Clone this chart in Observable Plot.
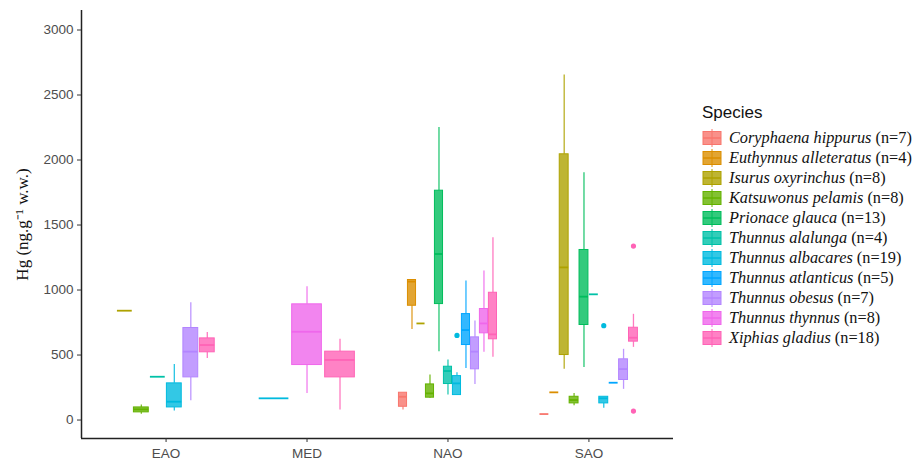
<!DOCTYPE html>
<html><head><meta charset="utf-8">
<script src="https://cdn.jsdelivr.net/npm/d3@7"></script>
<script src="https://cdn.jsdelivr.net/npm/@observablehq/plot@0.6"></script>
<style>
body{margin:0;background:#fff;}
#wrap{position:relative;width:914px;height:462px;overflow:hidden;}
#legend{position:absolute;left:690px;top:95px;}
</style></head><body><div id="wrap"></div>
<script>
// ---- data ----
const oceans = ["EAO", "MED", "NAO", "SAO"];
const species = ["Coryphaena hippurus", "Euthynnus alleteratus", "Isurus oxyrinchus", "Katsuwonus pelamis",
  "Prionace glauca", "Thunnus alalunga", "Thunnus albacares", "Thunnus atlanticus", "Thunnus obesus",
  "Thunnus thynnus", "Xiphias gladius"];
const speciesN = [7, 4, 8, 8, 13, 4, 19, 5, 7, 8, 18];
const palette = ["#F8766D", "#DB8E00", "#AEA200", "#64B200", "#00BD5C", "#00C1A7", "#00BADE", "#00A6FF", "#B385FF", "#EF67EB", "#FF63B6"];
const yTicks = [0, 500, 1000, 1500, 2000, 2500, 3000];
const yLabel = "Hg (ng.g\u207B\u00B9 w.w.)";

// box summaries: ocean, species index, lower whisker, Q1, median, Q3, upper whisker
const boxOcean   = ["EAO","EAO","EAO","EAO","EAO","EAO", "MED","MED","MED",
  "NAO","NAO","NAO","NAO","NAO","NAO","NAO","NAO","NAO","NAO","NAO",
  "SAO","SAO","SAO","SAO","SAO","SAO","SAO","SAO","SAO","SAO"];
const boxSpecies = [2,3,5,6,8,10, 6,9,10, 0,1,2,3,4,5,6,7,8,9,10, 0,1,2,3,4,5,6,7,8,10];
const boxLow     = [841, 44, 333, 69, 149, 474,  167, 205, 77,
  77, 697, 743, 165, 526, 192, 190, 397, 274, 521, 482,
  46, 213, 390, 110, 405, 967, 90, 287, 236, 559];
const boxQ1      = [841, 59, 333, 97, 328, 521,  167, 423, 328,
  102, 879, 743, 172, 892, 277, 192, 577, 390, 667, 621,
  46, 213, 500, 128, 731, 967, 128, 287, 308, 603];
const boxMedian  = [841, 82, 333, 141, 526, 577,  167, 679, 462,
  179, 1065, 743, 205, 1277, 377, 282, 692, 526, 743, 659,
  46, 213, 1174, 154, 949, 967, 167, 287, 392, 633];
const boxQ3      = [841, 97, 333, 282, 708, 628,  167, 890, 526,
  210, 1077, 743, 274, 1764, 410, 338, 815, 636, 854, 979,
  46, 213, 2044, 179, 1308, 967, 179, 287, 467, 710];
const boxHigh    = [841, 115, 333, 428, 903, 674,  167, 1026, 621,
  210, 1077, 743, 346, 2251, 462, 364, 1069, 762, 1146, 1403,
  46, 213, 2654, 205, 1903, 967, 179, 287, 544, 813];

// outliers
const outOcean   = ["NAO", "SAO", "SAO", "SAO"];
const outSpecies = [6, 6, 10, 10];
const outValue   = [651, 726, 1338, 69];

// ---- build tables ----
const groupWidth = 0.702;
const rows = boxOcean.map((o, i) => ({
  ocean: o, species: species[boxSpecies[i]], sp: boxSpecies[i],
  low: boxLow[i], q1: boxQ1[i], median: boxMedian[i], q3: boxQ3[i], high: boxHigh[i]
}));
const pos = new Map();
for (const o of oceans) {
  const g = rows.filter(r => r.ocean === o);
  const n = g.length, slot = groupWidth / n, base = oceans.indexOf(o) + 1;
  g.forEach((r, k) => {
    r.cx = base + (k - (n - 1) / 2) * slot;
    r.x1 = r.cx - 0.45 * slot;
    r.x2 = r.cx + 0.45 * slot;
    pos.set(o + "|" + r.sp, r.cx);
  });
}
const outliers = outOcean.map((o, i) => ({
  ocean: o, species: species[outSpecies[i]], value: outValue[i], cx: pos.get(o + "|" + outSpecies[i])
}));
const boxes = rows.filter(r => r.q3 > r.q1);

const xDomain = [0.4, 4.6];
const yDomain = [-142, 3150];

const plot = Plot.plot({
  width: 914, height: 462,
  marginLeft: 81, marginRight: 241, marginTop: 10, marginBottom: 24,
  style: {fontFamily: "'Liberation Sans', Arial, sans-serif", background: "#fff"},
  x: {type: "linear", domain: xDomain},
  y: {domain: yDomain},
  color: {type: "ordinal", domain: species, range: palette},
  marks: [
    Plot.ruleX(rows, {x: "cx", y1: "q3", y2: "high", stroke: "species", strokeWidth: 1.3, strokeOpacity: 0.85}),
    Plot.ruleX(rows, {x: "cx", y1: "low", y2: "q1", stroke: "species", strokeWidth: 1.3, strokeOpacity: 0.85}),
    Plot.rect(boxes, {x1: "x1", x2: "x2", y1: "q1", y2: "q3", fill: "species", fillOpacity: 0.8, stroke: "species", strokeWidth: 1}),
    Plot.ruleY(rows, {y: "median", x1: "x1", x2: "x2", stroke: "species", strokeWidth: 1.8}),
    Plot.dot(outliers, {x: "cx", y: "value", fill: "species", r: 2.6, stroke: null}),
    Plot.ruleX([xDomain[0]], {stroke: "#222", strokeWidth: 1.5}),
    Plot.ruleY([yDomain[0]], {stroke: "#222", strokeWidth: 1.5}),
    Plot.axisY(yTicks, {tickSize: 4, tickPadding: 4, fontSize: 13.5, fill: "#4D4D4D", stroke: "#333", label: null,
      tickFormat: d => String(d)}),
    Plot.axisX([1, 2, 3, 4], {tickSize: 4, tickPadding: 6, fontSize: 13.5, fill: "#4D4D4D", stroke: "#333", label: null,
      tickFormat: d => oceans[d - 1]}),
    Plot.text([yLabel], {frameAnchor: "left", textAnchor: "middle", dx: -59, rotate: -90, fontSize: 17, fill: "#111",
      fontFamily: "'Liberation Serif', 'Times New Roman', serif"})
  ]
});
const wrap = document.getElementById("wrap");
wrap.appendChild(plot);

// ---- legend (built from the plot's color scale) ----
const colorScale = plot.scale("color");
const leg = d3.select(wrap).append("svg").attr("id", "legend").attr("width", 224).attr("height", 260);
leg.append("text").attr("x", 12).attr("y", 23).attr("font-family", "'Liberation Sans', Arial, sans-serif")
  .attr("font-size", 17).attr("fill", "#111").text("Species");
colorScale.domain.forEach((s, i) => {
  const cy = 43 + 20 * i;
  const c = colorScale.range[i];
  const g = leg.append("g");
  g.append("line").attr("x1", 22).attr("x2", 22).attr("y1", cy - 9).attr("y2", cy + 9).attr("stroke", c).attr("stroke-width", 1);
  g.append("rect").attr("x", 13).attr("y", cy - 6.5).attr("width", 18).attr("height", 13)
    .attr("fill", c).attr("fill-opacity", 0.8).attr("stroke", c).attr("stroke-width", 1);
  g.append("line").attr("x1", 13).attr("x2", 31).attr("y1", cy).attr("y2", cy).attr("stroke", c).attr("stroke-width", 1.5);
  const t = g.append("text").attr("x", 39).attr("y", cy + 5)
    .attr("font-family", "'Liberation Serif', 'Times New Roman', serif").attr("font-size", 16.3).attr("fill", "#111");
  t.append("tspan").attr("font-style", "italic").text(s);
  t.append("tspan").text(" (n=" + speciesN[species.indexOf(s)] + ")");
});
</script></body></html>
